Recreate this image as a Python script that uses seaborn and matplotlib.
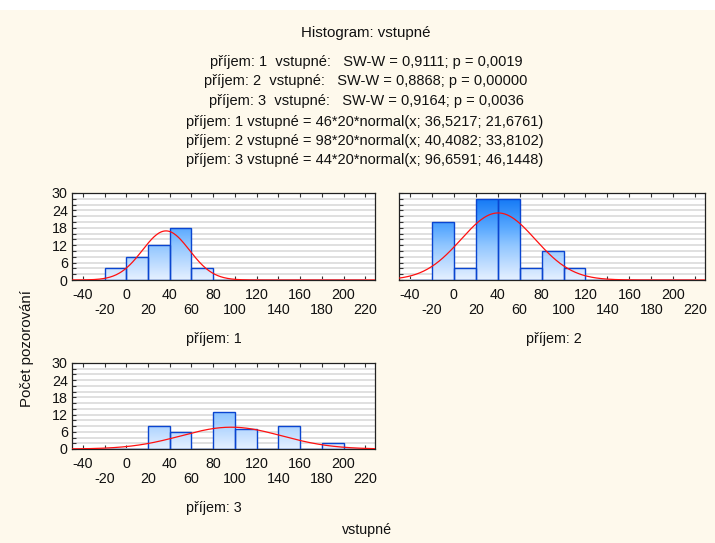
import numpy as np
import pandas as pd
import matplotlib
matplotlib.use("Agg")
import matplotlib.pyplot as plt
from matplotlib.colors import LinearSegmentedColormap
from matplotlib.ticker import MultipleLocator, FixedLocator
import seaborn as sns

# ---- data ----
bin_edges = [-40, -20, 0, 20, 40, 60, 80, 100, 120, 140, 160, 180, 200, 220]
bin_centers = [-30, -10, 10, 30, 50, 70, 90, 110, 130, 150, 170, 190, 210]
counts_1 = [0, 4, 8, 12, 18, 4, 0, 0, 0, 0, 0, 0, 0]
counts_2 = [0, 20, 4, 28, 28, 4, 10, 4, 0, 0, 0, 0, 0]
counts_3 = [0, 0, 0, 8, 6, 0, 13, 7, 0, 8, 0, 2, 0]
group_labels = ["příjem: 1", "příjem: 2", "příjem: 3"]
fit_n = [46, 98, 44]
fit_mean = [36.5217, 40.4082, 96.6591]
fit_sd = [21.6761, 33.8102, 46.1448]
sw_lines = [
    "příjem: 1  vstupné:   SW-W = 0,9111; p = 0,0019",
    "příjem: 2  vstupné:   SW-W = 0,8868; p = 0,00000",
    "příjem: 3  vstupné:   SW-W = 0,9164; p = 0,0036",
]
fit_lines = [
    "příjem: 1 vstupné = 46*20*normal(x; 36,5217; 21,6761)",
    "příjem: 2 vstupné = 98*20*normal(x; 40,4082; 33,8102)",
    "příjem: 3 vstupné = 44*20*normal(x; 96,6591; 46,1448)",
]
x_tick_values = list(range(-40, 221, 20))
y_tick_values = [0, 6, 12, 18, 24, 30]

sns.set_theme(style="white")
plt.rcParams["font.family"] = ["Liberation Sans", "DejaVu Sans"]

BG = "#FEF9EC"
W, H = 715, 543
fig = plt.figure(figsize=(W / 100, H / 100), dpi=100, facecolor=BG)
fig.patches.append(plt.Rectangle((0, 1 - 10 / H), 1, 10 / H, transform=fig.transFigure,
                                 facecolor="white", edgecolor="none", zorder=0))

def fx(px):
    return px / W

def fy(py):
    return 1 - py / H

cmap = LinearSegmentedColormap.from_list(
    "g", [(0.0, "#E6F1FF"), (0.15, "#C6E0FF"), (0.4, "#90C6FF"),
          (0.6, "#58A8FF"), (0.93, "#1479F5"), (1.0, "#0A6EF0")])
XLIM = (-50, 229)
YLIM = (0, 30)
FS = 10.3

panels = [
    (72, 375, 193, 280),
    (399, 705, 193, 280),
    (72, 375, 363, 449),
]
caption_pos = [(214, 339), (554, 339), (214, 508)]
all_counts = [counts_1, counts_2, counts_3]

grad = np.linspace(0, 1, 256).reshape(-1, 1)

for i, ((l, r, t, b), counts) in enumerate(zip(panels, all_counts)):
    ax = fig.add_axes([fx(l), fy(b), fx(r) - fx(l), fy(t) - fy(b)])
    ax.set_facecolor("white")
    df = pd.DataFrame({"x": bin_centers, "w": counts})
    sns.histplot(data=df, x="x", weights="w", bins=bin_edges, ax=ax,
                 facecolor="none", edgecolor="#0A45D0", linewidth=1.0, zorder=3)
    for p in list(ax.patches):
        if p.get_height() <= 0:
            continue
        im = ax.imshow(grad, cmap=cmap, aspect="auto", origin="lower",
                       extent=[XLIM[0], XLIM[1], YLIM[0], YLIM[1]], zorder=2,
                       interpolation="bilinear")
        im.set_clip_path(p)
    xs = np.linspace(XLIM[0], XLIM[1], 400)
    ys = fit_n[i] * 20 * np.exp(-0.5 * ((xs - fit_mean[i]) / fit_sd[i]) ** 2) / (fit_sd[i] * np.sqrt(2 * np.pi))
    sns.lineplot(x=xs, y=ys, ax=ax, color="#FF1010", linewidth=0.9, zorder=4)
    ax.set_xlim(*XLIM)
    ax.set_ylim(*YLIM)
    ax.set_xlabel("")
    ax.set_ylabel("")
    ax.yaxis.set_minor_locator(MultipleLocator(2))
    ax.yaxis.set_major_locator(FixedLocator(y_tick_values))
    ax.grid(which="both", axis="y", color="#E0E0E0", linewidth=1.4, zorder=0)
    ax.set_axisbelow(True)
    ax.xaxis.set_major_locator(FixedLocator(x_tick_values))
    labels = [str(v) if (k % 2 == 0) else "\n" + str(v) for k, v in enumerate(x_tick_values)]
    ax.set_xticklabels(labels, fontsize=FS, color="#111111", linespacing=1.05)
    ax.tick_params(axis="x", which="both", direction="in", top=True, bottom=True,
                   length=3, width=0.8, color="#333333", pad=6)
    ax.tick_params(axis="y", which="both", direction="in", left=True, right=False,
                   length=3, width=0.8, color="#333333", pad=3)
    if i == 1:
        ax.set_yticklabels([])
    else:
        ax.set_yticklabels([str(v) for v in y_tick_values], fontsize=FS, color="#111111")
    for s in ax.spines.values():
        s.set_color("#222222")
        s.set_linewidth(0.9)
        s.set_visible(True)
    cxp, cyp = caption_pos[i]
    fig.text(fx(cxp), fy(cyp), group_labels[i], ha="center", va="center", fontsize=FS, color="#111111")

fig.text(fx(366), fy(33), "Histogram: vstupné", ha="center", va="center", fontsize=10.8, color="#111111")
for k, s in enumerate(sw_lines):
    fig.text(fx(366), fy(62 + 19.5 * k), s, ha="center", va="center", fontsize=10.5, color="#111111")
for k, s in enumerate(fit_lines):
    fig.text(fx(365), fy(122 + 19 * k), s, ha="center", va="center", fontsize=10.5, color="#111111")
fig.text(fx(27), fy(349), "Počet pozorování", rotation=90, ha="center", va="center", fontsize=10.8, color="#111111")
fig.text(fx(367), fy(530), "vstupné", ha="center", va="center", fontsize=FS, color="#111111")

fig.savefig("out.png", dpi=100, facecolor=BG)
